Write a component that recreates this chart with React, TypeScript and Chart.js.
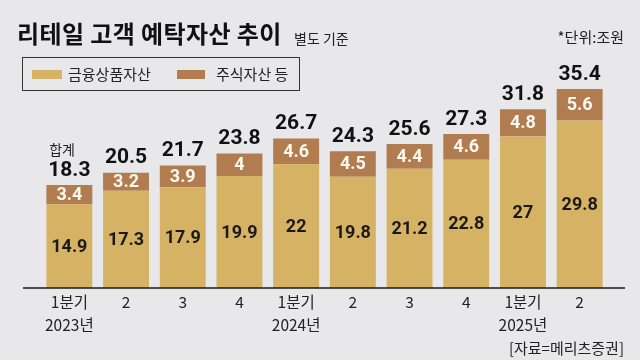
import React, { useEffect, useRef } from "react";
import { Chart, registerables } from "chart.js";

Chart.register(...registerables);

const categories: (string | string[])[] = [
  ["1분기", "2023년"], "2", "3", "4",
  ["1분기", "2024년"], "2", "3", "4",
  ["1분기", "2025년"], "2",
];
const financialAssets = [14.9, 17.3, 17.9, 19.9, 22, 19.8, 21.2, 22.8, 27, 29.8];
const stockAssets = [3.4, 3.2, 3.9, 4, 4.6, 4.5, 4.4, 4.6, 4.8, 5.6];
const totals = [18.3, 20.5, 21.7, 23.8, 26.7, 24.3, 25.6, 27.3, 31.8, 35.4];
const seriesNames = ["금융상품자산", "주식자산 등"];

const GOLD = "#D6B264";
const BROWN = "#B07C50";
const BG = "#E8E8EA";
const NUM_FONT = "Roboto, 'Liberation Sans', sans-serif";
const KR_FONT = "'Noto Sans CJK KR', 'Noto Sans', sans-serif";

const labelsPlugin = {
  id: "customLabels",
  afterDatasetsDraw(chart: any) {
    const ctx = chart.ctx;
    const yScale = chart.scales.y;
    const y0 = yScale.getPixelForValue(0);
    ctx.save();
    ctx.strokeStyle = "#1a1a1a";
    ctx.lineWidth = 1.5;
    ctx.beginPath();
    ctx.moveTo(23, y0);
    ctx.lineTo(625, y0);
    ctx.stroke();

    const m0 = chart.getDatasetMeta(0);
    const m1 = chart.getDatasetMeta(1);
    ctx.textAlign = "center";
    ctx.textBaseline = "middle";
    m0.data.forEach((bar: any, i: number) => {
      ctx.font = `bold 18px ${NUM_FONT}`;
      ctx.fillStyle = "#1a1a1a";
      ctx.fillText(String(financialAssets[i]), bar.x, (bar.y + bar.base) / 2 + 1);
      const b1 = m1.data[i];
      ctx.fillStyle = "#FFF8EE";
      ctx.fillText(String(stockAssets[i]), b1.x, (b1.y + b1.base) / 2 + 1);
      ctx.font = `bold 21px ${NUM_FONT}`;
      ctx.fillStyle = "#111";
      ctx.textBaseline = "bottom";
      const t = totals[i].toFixed(1);
      ctx.fillText(t, b1.x, b1.y - 4);
      if (i === 0) {
        const w = ctx.measureText(t).width;
        ctx.font = `14px ${KR_FONT}`;
        ctx.textAlign = "left";
        ctx.textBaseline = "middle";
        ctx.fillStyle = "#222";
        ctx.fillText("합계", b1.x - w / 2 + 1, b1.y - 35);
        ctx.textAlign = "center";
      }
      ctx.textBaseline = "middle";
    });
    ctx.restore();
  },
};

function ChartCanvas() {
  const ref = useRef<HTMLCanvasElement>(null);
  useEffect(() => {
    if (!ref.current) return;
    const chart = new Chart(ref.current, {
      type: "bar",
      data: {
        labels: categories,
        datasets: [
          { label: seriesNames[0], data: financialAssets, backgroundColor: GOLD, stack: "s", barPercentage: 0.81, categoryPercentage: 1 },
          { label: seriesNames[1], data: stockAssets, backgroundColor: BROWN, stack: "s", barPercentage: 0.81, categoryPercentage: 1 },
        ],
      },
      options: {
        responsive: false,
        animation: false,
        devicePixelRatio: 1,
        layout: { padding: { left: 41, right: 32, top: 63, bottom: 21 } },
        plugins: { legend: { display: false }, tooltip: { enabled: false }, title: { display: false } },
        scales: {
          x: {
            stacked: true,
            grid: { display: false, drawTicks: false, tickLength: 0 },
            border: { display: false },
            ticks: {
              color: "#222",
              font: { size: 15.5, family: KR_FONT, lineHeight: 1.45 },
              maxRotation: 0,
              autoSkip: false,
              padding: 3,
            },
          },
          y: { stacked: true, display: false, min: 0, max: 40 },
        },
      },
      plugins: [labelsPlugin],
    });
    return () => chart.destroy();
  }, []);
  return <canvas ref={ref} width={640} height={360} style={{ position: "absolute", left: 0, top: 0 }} />;
}

export default function App() {
  const txt = (extra: React.CSSProperties): React.CSSProperties => ({
    position: "absolute",
    fontFamily: KR_FONT,
    whiteSpace: "nowrap",
    color: "#1a1a1a",
    ...extra,
  });
  return (
    <div style={{ position: "fixed", left: 0, top: 0, width: 640, height: 360, background: BG, overflow: "hidden" }}>
      <ChartCanvas />
      <div style={txt({ left: 17, top: 21, fontSize: 24, lineHeight: "24px", fontWeight: 700, letterSpacing: "0.4px", color: "#111" })}>
        리테일 고객 예탁자산 추이
      </div>
      <div style={txt({ left: 294, top: 31, fontSize: 14, lineHeight: "14px", color: "#222" })}>별도 기준</div>
      <div style={txt({ right: 16, top: 29, fontSize: 15, lineHeight: "15px", color: "#222" })}>*단위:조원</div>
      <div
        style={{
          position: "absolute",
          left: 22,
          top: 57,
          width: 276,
          height: 32,
          border: "1.5px solid #333",
        }}
      />
      <div style={{ position: "absolute", left: 32, top: 70, width: 30, height: 9, background: GOLD }} />
      <div style={txt({ left: 68, top: 66, fontSize: 15, lineHeight: "15px", color: "#222" })}>{seriesNames[0]}</div>
      <div style={{ position: "absolute", left: 177, top: 70, width: 28, height: 9, background: BROWN }} />
      <div style={txt({ left: 216, top: 66, fontSize: 15, lineHeight: "15px", color: "#222" })}>{seriesNames[1]}</div>
      <div style={txt({ right: 16, top: 340, fontSize: 15, lineHeight: "15px", color: "#222" })}>[자료=메리츠증권]</div>
    </div>
  );
}
